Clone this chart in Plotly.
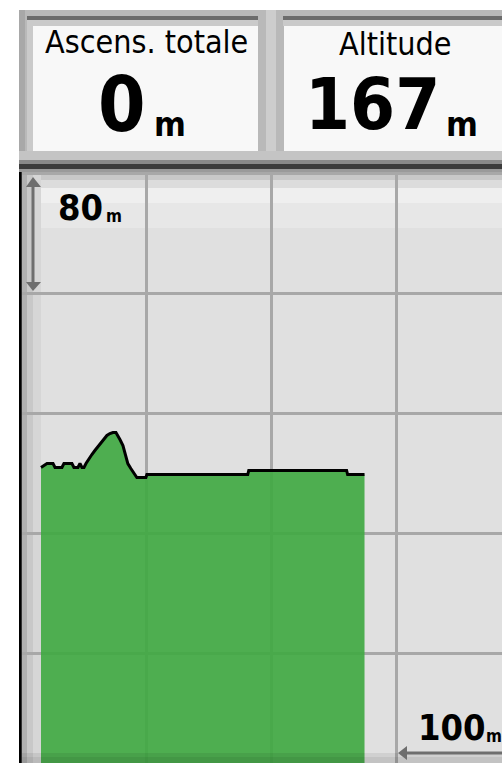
import plotly.graph_objects as go

# ---------------- data ----------------
distance_m = [0, 4.8, 9.6, 11.2, 16.7, 18.3, 24.7, 26.3, 29.5, 31.1, 32.7, 34.3, 35.9,
              38.3, 40.6, 43.0, 45.4, 47.8, 50.2, 52.6, 55.0, 57.4, 59.8, 61.4, 63.0,
              65.4, 66.9, 69.3, 71.7, 74.1, 76.5, 83.7, 84.5, 165.0, 165.8, 243.9,
              244.7, 258.2]
altitude_m = [171.7, 174.3, 174.3, 171.7, 171.7, 174.3, 174.3, 171.7, 171.7, 174.3, 171.7,
              171.7, 174.3, 177.7, 180.3, 183.0, 185.7, 188.3, 191.0, 193.0, 194.3, 195.0,
              195.0, 193.0, 190.3, 186.3, 181.0, 174.3, 171.0, 168.3, 165.0, 165.0, 167.0,
              167.0, 169.7, 169.7, 167.0, 167.0]

field_labels = ["Ascens. totale", "Altitude"]
field_values = ["0", "167"]
field_units = ["m", "m"]
vertical_scale_label = "80"
horizontal_scale_label = "100"
scale_unit = "m"
grid_dx_m = 100
grid_dy_m = 80

# ---------------- geometry ----------------
OFF = 0
SW, SH = 502, 763
W, H = SW - OFF, SH - OFF
def px(x):
    return (x - OFF) / W
def py(y):
    return 1 - (y - OFF) / H

PL, PR, PT, PB = 19, 502, 170, 763
X0PX, XSC = 41, 1.253
xr = [(PL - X0PX) / XSC, (PR - X0PX) / XSC]
YREF, YREFPX, YSC = 167, 474.5, 1.5
yr = [YREF - (PB - YREFPX) / YSC, YREF + (YREFPX - PT) / YSC]
xtick0 = (146 - X0PX) / XSC
ytick0 = YREF - (653 - YREFPX) / YSC

fig = go.Figure()
fig.add_trace(go.Scatter(x=[distance_m[0], distance_m[-1]], y=[yr[0], yr[0]],
                         mode="lines", line=dict(width=0, color="rgba(0,0,0,0)"),
                         hoverinfo="skip", showlegend=False))
fig.add_trace(go.Scatter(x=distance_m, y=altitude_m, mode="lines",
                         line=dict(color="black", width=3),
                         fill="tonexty", fillcolor="rgba(62,168,64,0.9)",
                         showlegend=False))

shapes = []
def rect(x0, x1, y0, y1, color, layer="above"):
    shapes.append(dict(type="rect", xref="paper", yref="paper",
                       x0=px(x0), x1=px(x1), y0=py(y1), y1=py(y0),
                       fillcolor=color, layer=layer, line=dict(width=0)))

rect(PL, PR, PT, PB, "#e0e0e0", layer="below")
rect(PL, PR, 172, 180, "#c8c8c8", layer="below")
rect(PL, PR, 180, 188, "#dcdcdc", layer="below")
rect(PL, PR, 188, 203, "#efefef", layer="below")
rect(PL, PR, 203, 228, "#e7e7e7", layer="below")
rect(22, 27, PT, PB, "#b0b0b0", layer="below")
rect(27, 33, PT, PB, "#c8c8c8", layer="below")
rect(33, 41, PT, PB, "#d6d6d6", layer="below")

rect(19, 502, 10, 172, "#b9b9b9")
rect(19, 25, 10, 165, "#a8a8a8")
rect(27, 258, 16, 20, "#6c6c6c")
rect(283, 502, 16, 20, "#6c6c6c")
rect(27, 258, 20, 26, "#cacaca")
rect(283, 502, 20, 26, "#cacaca")
rect(27, 33, 26, 151, "#cacaca")
rect(33, 258, 26, 151, "#f8f8f8")
rect(284, 502, 26, 151, "#f8f8f8")
rect(266, 276, 10, 160, "#cdcdcd")
rect(19, 502, 151, 160, "#c4c4c4")
rect(19, 502, 160, 164, "#8a8a8a")
rect(19, 502, 164, 169, "#3c3c3c")
rect(19, 502, 169, 172, "#9a9a9a")

rect(19, 21.7, 172, PB, "#000000")
rect(21.7, PR, 753, 757, "rgba(0,0,0,0.07)")
rect(21.7, PR, 757, PB, "rgba(0,0,0,0.13)")

arrow_col = "#6e6e6e"
shapes.append(dict(type="line", xref="paper", yref="paper", x0=px(33), x1=px(33),
                   y0=py(184), y1=py(284), line=dict(color=arrow_col, width=3)))
shapes.append(dict(type="path", xref="paper", yref="paper",
                   path=f"M {px(33)},{py(177)} L {px(26)},{py(187)} L {px(41)},{py(187)} Z",
                   fillcolor=arrow_col, line=dict(width=0)))
shapes.append(dict(type="path", xref="paper", yref="paper",
                   path=f"M {px(33)},{py(291)} L {px(26)},{py(282)} L {px(41)},{py(282)} Z",
                   fillcolor=arrow_col, line=dict(width=0)))
shapes.append(dict(type="line", xref="paper", yref="paper", x0=px(403), x1=px(502),
                   y0=py(753), y1=py(753), line=dict(color=arrow_col, width=3)))
shapes.append(dict(type="path", xref="paper", yref="paper",
                   path=f"M {px(398)},{py(753)} L {px(407)},{py(746)} L {px(407)},{py(760)} Z",
                   fillcolor=arrow_col, line=dict(width=0)))

NARROW = "DejaVu Sans Condensed, Liberation Sans Narrow, sans-serif"
ann = []
def text(t, x, y, size, bold=False, xanchor="center"):
    ann.append(dict(text=f"<b>{t}</b>" if bold else t, x=px(x), y=py(y),
                    xref="paper", yref="paper", xanchor=xanchor, yanchor="middle",
                    showarrow=False, font=dict(family=NARROW, size=size, color="#000000")))

text(field_labels[0], 146, 42, 32)
text(field_labels[1], 395, 44, 32)
text(field_values[0], 121.5, 104, 76, bold=True)
text(field_units[0], 152, 124, 34, bold=True, xanchor="left")
text(field_values[1], 372.5, 104, 72, bold=True)
text(field_units[1], 444, 124, 34, bold=True, xanchor="left")
text(vertical_scale_label, 80, 207.5, 36, bold=True)
text(scale_unit, 104, 216, 17, bold=True, xanchor="left")
text(horizontal_scale_label, 451.5, 727.5, 36, bold=True)
text(scale_unit, 484, 736, 17, bold=True, xanchor="left")

fig.update_layout(
    width=W, height=H,
    margin=dict(l=0, r=0, t=0, b=0),
    paper_bgcolor="white",
    plot_bgcolor="rgba(0,0,0,0)",
    shapes=shapes,
    annotations=ann,
    xaxis=dict(domain=[px(PL), 1], range=xr, tick0=xtick0, dtick=grid_dx_m,
               showgrid=True, gridcolor="#a8a8a8", gridwidth=3, zeroline=False,
               showticklabels=False, showline=False, fixedrange=True),
    yaxis=dict(domain=[0, py(PT)], range=yr, tick0=ytick0, dtick=grid_dy_m,
               showgrid=True, gridcolor="#a8a8a8", gridwidth=3, zeroline=False,
               showticklabels=False, showline=False, fixedrange=True),
)
fig.write_html("out.html", config={"displayModeBar": False},
               post_script="document.body.style.margin='0';document.body.style.overflow='hidden';")
